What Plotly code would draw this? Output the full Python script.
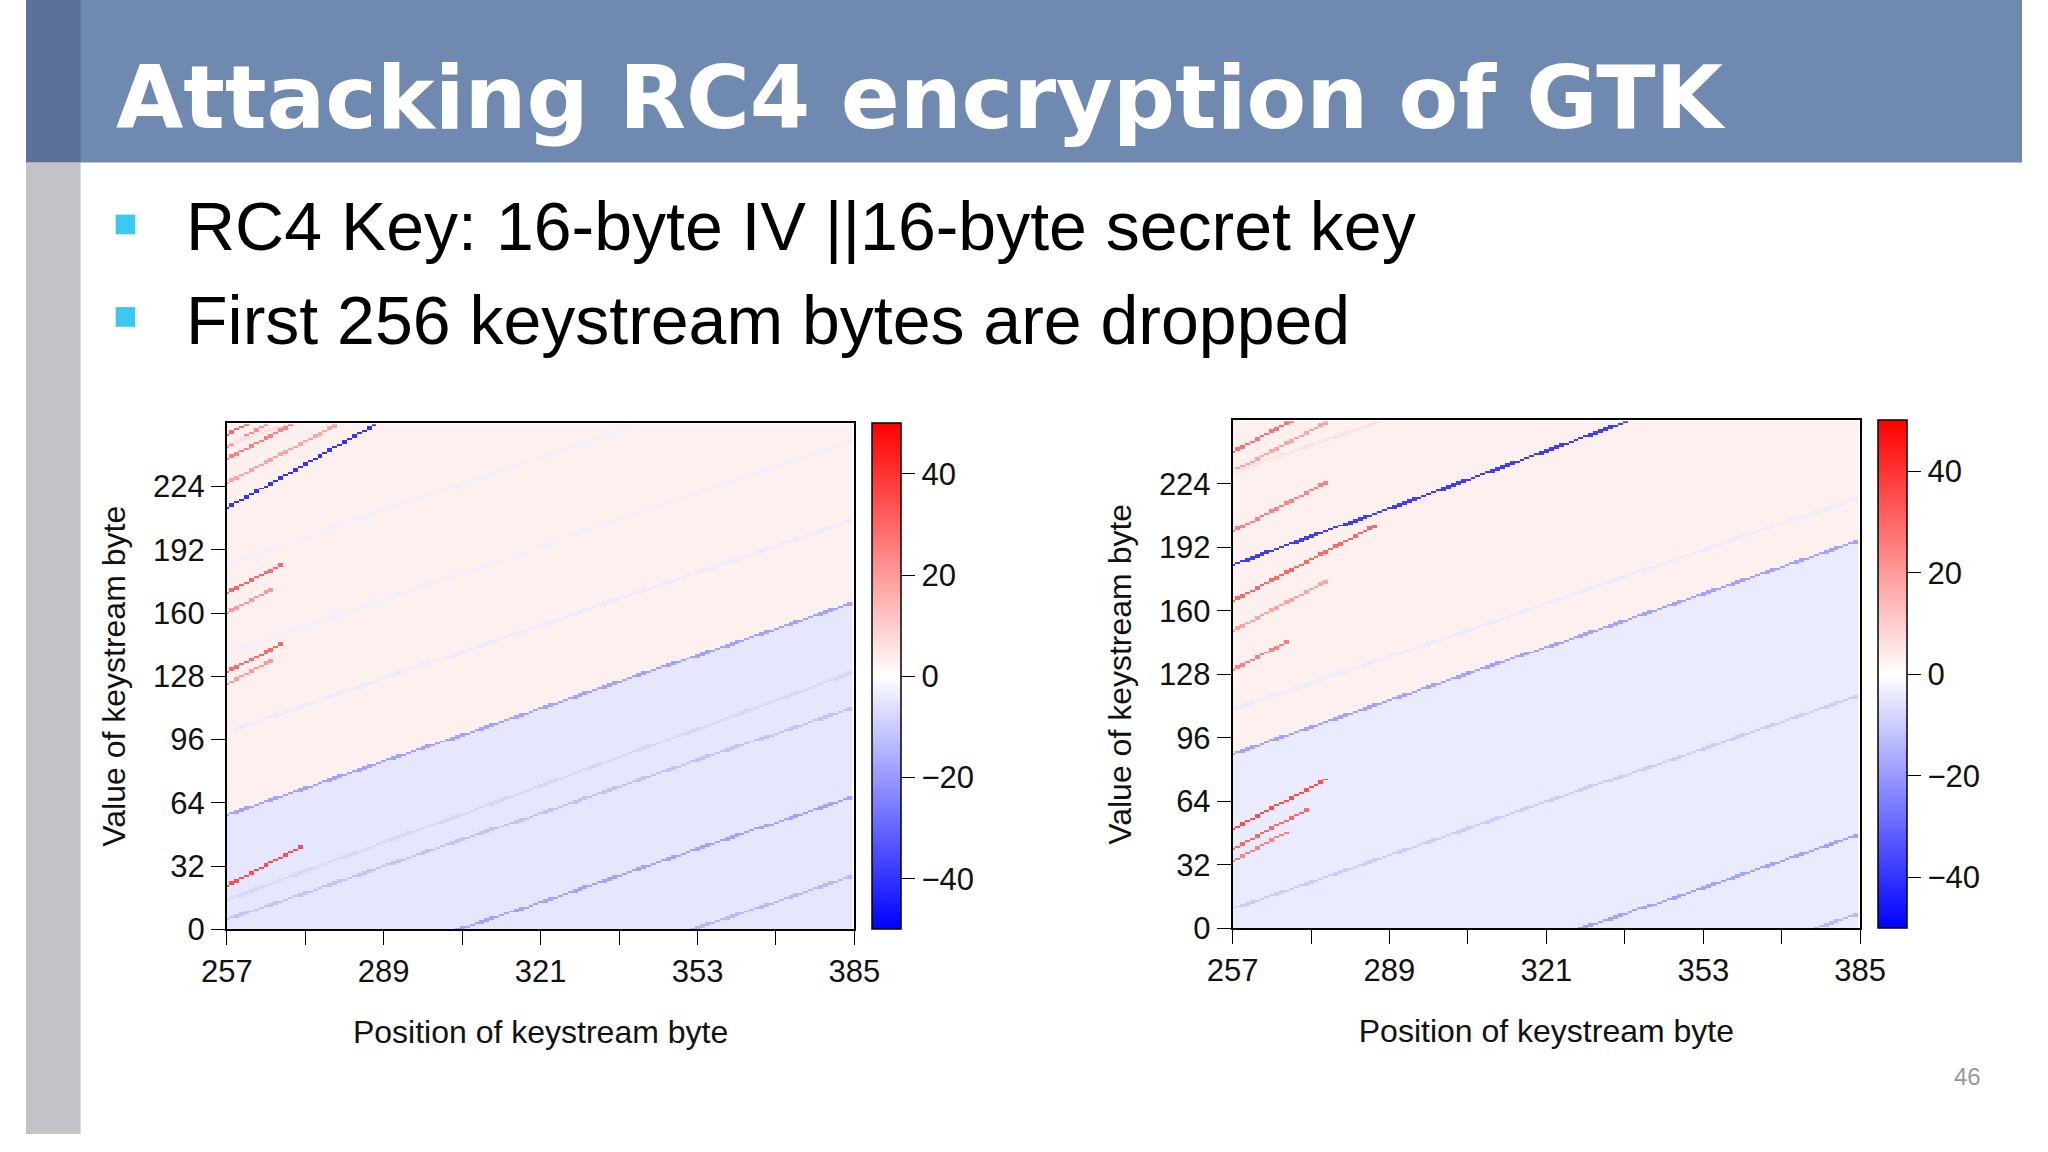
import numpy as np
import plotly.graph_objects as go

W, H = 2048, 1152
positions = list(range(257, 385))
values = list(range(0, 256))
x_ticks = [257, 273, 289, 305, 321, 337, 353, 369, 385]
x_labels = ["257", "", "289", "", "321", "", "353", "", "385"]
y_ticks = [0, 32, 64, 96, 128, 160, 192, 224]
cb_ticks = [-40, -20, 0, 20, 40]

# background levels: upper region bias, lower triangle bias, boundary start and slope
left_bg = dict(upper=3, lower=-5, b0=58, slope=0.84)
right_bg = dict(upper=3, lower=-4, b0=88, slope=0.84)
# diagonal streaks: start value at 257, slope, bias, length (positions)
left_lines_y0 = [213, 58, 5, 250, 244, 238, 226, 170, 160, 130, 124, 22, 15, 245, -40, -80, 100, 140, 185]
left_lines_slope = [1.4, 0.84, 0.84, 1.4, 1.4, 1.3, 1.3, 1.3, 1.3, 1.3, 1.3, 1.3, 0.9, 0.84, 0.84, 0.84, 0.84, 0.84, 0.84]
left_lines_bias = [-40, -18, -12, 30, 22, 25, 18, 30, 20, 30, 20, 35, -8, 6, -18, -14, -4, -3, -3]
left_lines_len = [40, 128, 128, 30, 35, 40, 30, 12, 10, 12, 10, 16, 128, 128, 128, 128, 128, 128, 128]
right_lines_y0 = [183, 88, 10, 240, 230, 200, 165, 150, 130, 50, 40, 34, -60, -100, 230, 110]
right_lines_slope = [0.9, 0.84, 0.84, 1.3, 1.3, 1.3, 1.3, 1.3, 1.3, 1.3, 1.3, 1.3, 0.84, 0.84, 0.84, 0.84]
right_lines_bias = [-38, -18, -10, 28, 18, 25, 30, 18, 25, 35, 30, 25, -18, -14, 6, -4]
right_lines_len = [128, 128, 128, 40, 30, 20, 30, 20, 12, 20, 16, 12, 128, 128, 128, 128]


def build(bg, y0s, slopes, biases, lens):
    X = np.array(positions)[None, :] - 257
    Y = np.array(values)[:, None]
    z = np.where(Y > bg["b0"] + bg["slope"] * X, bg["upper"], bg["lower"]).astype(float)
    z = z + np.zeros((len(values), len(positions)))
    for a, s, b, L in zip(y0s, slopes, biases, lens):
        line = a + s * X
        mask = (np.abs(Y - line) < 0.7) & (X < L)
        z[mask] = b
    return z


z_left = build(left_bg, left_lines_y0, left_lines_slope, left_lines_bias, left_lines_len)
z_right = build(right_bg, right_lines_y0, right_lines_slope, right_lines_bias, right_lines_len)

cs = [[0, "#0000FF"], [0.5, "#FFFFFF"], [1, "#FF0000"]]
fig = go.Figure()


def px(x):
    return x / W


def py(y):
    return 1 - y / H


panels = [
    (z_left, (206, 850), (430, 944), (868, 897), "", "x", "y"),
    (z_right, (1238, 1882), (427, 943), (1900, 1929), "2", "x2", "y2"),
]
FF = "Liberation Sans, Arial"
font_tick = dict(family=FF, size=31, color="#111")
for z, xr, yr, cbx, sfx, xa, ya in panels:
    fig.add_trace(go.Heatmap(
        x=positions, y=values, z=z, zmin=-50, zmax=50, colorscale=cs,
        xaxis=xa, yaxis=ya,
        colorbar=dict(x=px(cbx[0]), xanchor="left", y=py(yr[1]), yanchor="bottom",
                      len=(yr[1] - yr[0]) / H, lenmode="fraction",
                      thickness=cbx[1] - cbx[0], thicknessmode="pixels",
                      outlinecolor="black", outlinewidth=1.5,
                      tickvals=cb_ticks, ticktext=["−40", "−20", "0", "20", "40"],
                      ticks="outside", ticklen=14, tickcolor="black",
                      tickfont=font_tick, ypad=0, xpad=0)))
    fig.layout["xaxis" + sfx] = dict(
        domain=[px(xr[0]), px(xr[1])], range=[257, 385], anchor=ya,
        tickvals=x_ticks, ticktext=x_labels, ticks="outside", ticklen=14,
        tickcolor="black", tickfont=font_tick, showgrid=False, zeroline=False,
        showline=True, linecolor="black", mirror=True, linewidth=1.5,
        title=dict(text="Position of keystream byte", font=dict(family=FF, size=32, color="#111"), standoff=32))
    fig.layout["yaxis" + sfx] = dict(
        domain=[py(yr[1]), py(yr[0])], range=[0, 256], anchor=xa,
        tickvals=y_ticks, ticks="outside", ticklen=14, tickcolor="black",
        tickfont=font_tick, showgrid=False, zeroline=False,
        showline=True, linecolor="black", mirror=True, linewidth=1.5,
        title=dict(text="Value of keystream byte", font=dict(family=FF, size=32, color="#111"), standoff=18))

shapes = [
    dict(type="rect", xref="paper", yref="paper", x0=0, x1=1, y0=py(165), y1=1, fillcolor="#7089B0", line_width=0, layer="below"),
    dict(type="rect", xref="paper", yref="paper", x0=0, x1=px(56), y0=py(165), y1=1, fillcolor="#5B719A", line_width=0, layer="below"),
    dict(type="rect", xref="paper", yref="paper", x0=0, x1=px(56), y0=0, y1=py(165), fillcolor="#C3C2C8", line_width=0, layer="below"),
    dict(type="rect", xref="paper", yref="paper", x0=px(92), x1=px(112), y0=py(238), y1=py(218), fillcolor="#3CC8F0", line_width=0),
    dict(type="rect", xref="paper", yref="paper", x0=px(92), x1=px(112), y0=py(332), y1=py(312), fillcolor="#3CC8F0", line_width=0),
]
ann = [
    dict(text="<b>Attacking RC4 encryption of GTK</b>", x=px(90), y=py(100), xanchor="left", yanchor="middle",
         font=dict(family="DejaVu Sans", size=87, color="white")),
    dict(text="RC4 Key: 16-byte IV ||16-byte secret key", x=px(162), y=py(230), xanchor="left", yanchor="middle",
         font=dict(family=FF, size=68, color="black")),
    dict(text="First 256 keystream bytes are dropped", x=px(162), y=py(325), xanchor="left", yanchor="middle",
         font=dict(family=FF, size=68, color="black")),
    dict(text="46", x=px(2008), y=py(1094), xanchor="right", yanchor="middle",
         font=dict(family=FF, size=24, color="#999")),
]
for a in ann:
    a.update(xref="paper", yref="paper", showarrow=False)

fig.update_layout(width=W, height=H, margin=dict(l=0, r=0, t=0, b=0),
                  paper_bgcolor="white", plot_bgcolor="white",
                  shapes=shapes, annotations=ann, showlegend=False)
fig.write_html("out.html", config={"displayModeBar": False},
               post_script="document.body.style.margin='0px';document.body.style.padding='0px';")
